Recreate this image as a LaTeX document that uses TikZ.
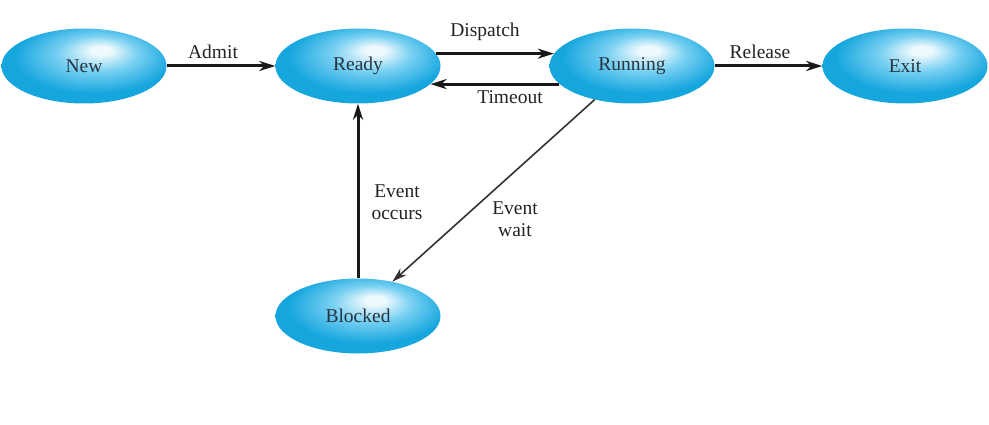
\documentclass[tikz,border=0pt]{standalone}
\usepackage{fontspec}
\setmainfont{Liberation Serif}
\usetikzlibrary{shapes.geometric,arrows.meta}
\definecolor{cy}{RGB}{22,166,222}
\definecolor{cymid}{RGB}{120,208,242}
\definecolor{cyhi}{RGB}{238,249,253}
\definecolor{txt}{RGB}{40,52,64}
\definecolor{lbl}{RGB}{35,35,35}
\pgfdeclareradialshading{cyanball}{\pgfpoint{5.5bp}{11bp}}{%
  color(0bp)=(cyhi); color(3bp)=(cyhi); color(12bp)=(cymid); color(24bp)=(cy); color(50bp)=(cy)}
\tikzset{
  state/.style={ellipse, shading=cyanball, draw=none, minimum width=165pt, minimum height=75pt,
    inner sep=0pt, text=txt, font=\fontsize{19.5}{22}\selectfont},
  lab/.style={text=lbl, font=\fontsize{19.5}{22}\selectfont, align=center, inner sep=0pt},
  trans/.style={line width=3pt, draw=black!90, -{Stealth[length=16pt,width=10pt,inset=5pt]}},
  thintrans/.style={line width=1.6pt, draw=black!80, -{Stealth[length=15pt,width=9pt,inset=5pt]}}
}
\begin{document}
\begin{tikzpicture}[x=1pt,y=-1pt]
\path[use as bounding box] (0,0) rectangle (989,425);
\node[state] (new) at (84,66) {New};
\node[state] (ready) at (358,66) {Ready};
\node[state] (running) at (632,66) {Running};
\node[state] (exit) at (905,66) {Exit};
\node[state] (blocked) at (358,316) {Blocked};

\draw[trans] (new) -- (ready);
\draw[trans] (ready.9) -- (running.171);
\draw[trans] (running.194) -- (ready.346);
\draw[trans] (running) -- (exit);
\draw[trans] (blocked.north) -- (ready.south);
\draw[thintrans] (running.222) -- (blocked.45);

\node[lab] (ladmit) at (213,52) {Admit};
\node[lab] (ldispatch) at (485,32) {Dispatch};
\node[lab] (ltimeout) at (510,97) {Timeout};
\node[lab] (lrelease) at (760,52) {Release};
\node[lab] (loccurs) at (397,202) {Event\\occurs};
\node[lab] (lwait) at (515,219) {Event\\wait};
\end{tikzpicture}
\end{document}
